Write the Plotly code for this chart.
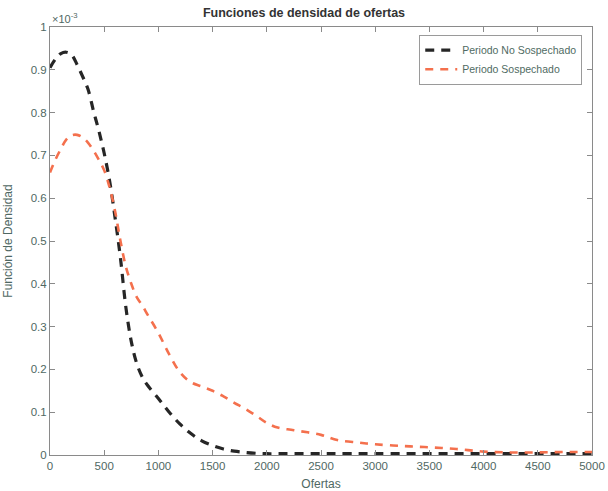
import plotly.graph_objects as go

# Ofertas (eje x) y densidades estimadas, en unidades de 1e-3
ofertas = [0, 50, 100, 150, 200, 250, 300, 350, 400, 450, 500, 550, 600, 650, 700,
           750, 800, 850, 900, 1000, 1100, 1200, 1300, 1400, 1500, 1600, 1700, 1800,
           1900, 2000, 2100, 2250, 2500, 2650, 2850, 3000, 3250, 3500, 3750, 4000,
           4250, 4500, 4750, 5000]

dens_no_sospechado = [0.905, 0.925, 0.938, 0.941, 0.935, 0.912, 0.885, 0.855, 0.805,
                      0.758, 0.705, 0.640, 0.555, 0.460, 0.345, 0.265, 0.214, 0.183,
                      0.163, 0.132, 0.100, 0.072, 0.050, 0.033, 0.022, 0.014, 0.009,
                      0.006, 0.004, 0.003, 0.003, 0.003, 0.003, 0.003, 0.003, 0.003,
                      0.003, 0.003, 0.003, 0.003, 0.003, 0.003, 0.003, 0.003]

dens_sospechado = [0.660, 0.690, 0.715, 0.737, 0.747, 0.748, 0.742, 0.730, 0.712,
                   0.690, 0.665, 0.625, 0.570, 0.500, 0.440, 0.400, 0.369, 0.350,
                   0.328, 0.285, 0.235, 0.193, 0.170, 0.160, 0.150, 0.137, 0.122,
                   0.108, 0.092, 0.075, 0.064, 0.058, 0.047, 0.035, 0.029, 0.025,
                   0.021, 0.018, 0.014, 0.008, 0.006, 0.006, 0.007, 0.007]

x_ticks = list(range(0, 5001, 500))
y_ticks = [0, 0.1, 0.2, 0.3, 0.4, 0.5, 0.6, 0.7, 0.8, 0.9, 1]

tick_color = "#4f6863"
font_family = "Liberation Sans, Arial, sans-serif"

fig = go.Figure()
fig.add_trace(go.Scatter(
    x=ofertas, y=dens_no_sospechado, mode="lines", name="Periodo No Sospechado",
    line=dict(color="#262626", width=3.2, dash="9px,7px", shape="spline"),
))
fig.add_trace(go.Scatter(
    x=ofertas, y=dens_sospechado, mode="lines", name="Periodo Sospechado",
    line=dict(color="#f4704d", width=2.6, dash="8px,7px", shape="spline"),
))

axis_common = dict(
    showgrid=False, zeroline=False, showline=True, linecolor="#8a8a8a", linewidth=1,
    mirror="ticks", ticks="inside", ticklen=5, tickcolor="#8a8a8a", automargin=False,
    tickfont=dict(family=font_family, size=11.5, color=tick_color),
)

fig.update_layout(
    width=608, height=491,
    margin=dict(l=50, r=16, t=27, b=36),
    paper_bgcolor="white", plot_bgcolor="white",
    font=dict(family=font_family, color=tick_color),
    title=dict(text="<b>Funciones de densidad de ofertas</b>", x=0.5, xanchor="center",
               y=0.975, yanchor="middle",
               font=dict(family=font_family, size=12.5, color="#333333")),
    xaxis=dict(range=[0, 5000], tickvals=x_ticks,
               title=dict(text="Ofertas",
                          font=dict(family=font_family, size=12, color=tick_color)),
               **axis_common),
    yaxis=dict(range=[0, 1], tickvals=y_ticks,
               title=dict(text="Función de Densidad",
                          font=dict(family=font_family, size=12, color=tick_color)),
               **axis_common),
    legend=dict(x=0.982, y=0.982, xanchor="right", yanchor="top",
                bgcolor="white", bordercolor="#9a9a9a", borderwidth=1,
                font=dict(family=font_family, size=10.5, color="#4f6b63"),
                tracegroupgap=0, itemwidth=32),
    showlegend=True,
    annotations=[dict(text="×10<sup>-3</sup>", xref="paper", yref="paper", x=0, y=1,
                      xanchor="left", yanchor="bottom", showarrow=False,
                      font=dict(family=font_family, size=11, color=tick_color))],
)

fig.write_html("out.html")
